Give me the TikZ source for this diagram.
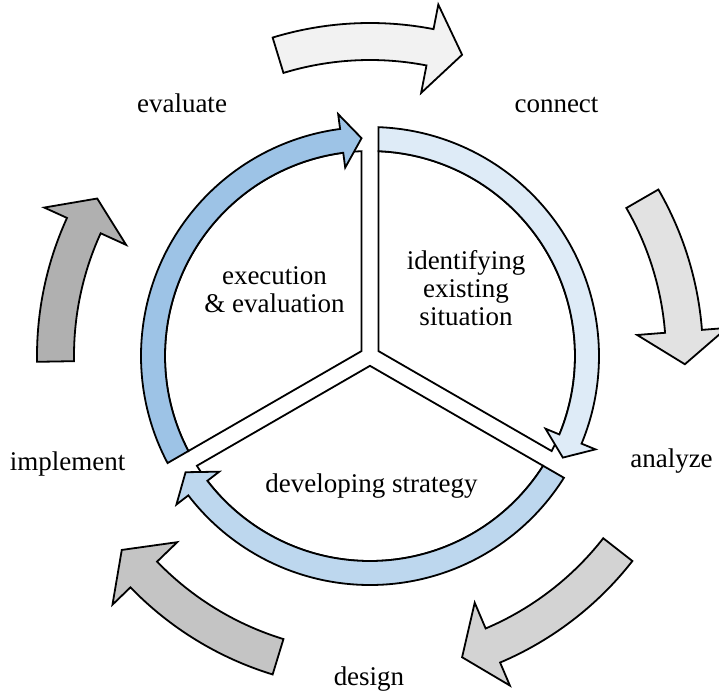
\documentclass[tikz,border=0pt]{standalone}
\usepackage{fontspec}
\setmainfont{Liberation Serif}

\definecolor{bandlight}{HTML}{DEEBF7}
\definecolor{bandmid}{HTML}{BDD7EE}
\definecolor{banddark}{HTML}{9DC3E6}
\definecolor{greyA}{HTML}{F2F2F2}
\definecolor{greyB}{HTML}{E2E2E2}
\definecolor{greyC}{HTML}{D3D3D3}
\definecolor{greyD}{HTML}{C4C4C4}
\definecolor{greyE}{HTML}{B0B0B0}

\begin{document}
\begin{tikzpicture}[x=0.5pt,y=0.5pt,
    every node/.style={font=\fontsize{13.5}{14}\selectfont, inner sep=0pt},
    outline/.style={draw=black, line width=0.9pt, line join=miter},
    steplabel/.style={anchor=base},
    phasetext/.style={anchor=base, align=center}]
            \useasboundingbox (-370,-337) rectangle (349,356);

            % outer cycle of grey arrows: tail angle / head base / tip
            \foreach \a/\b/\t/\col in {107/79/73/greyA, 30/4.5/-1.5/greyB, -38/-67/-73/greyC, -107/-136/-142/greyD, 181/155.5/150/greyE}
                \draw[outline, fill=\col] (\a:333) arc[start angle=\a, end angle=\b, radius=333] -- (\b:358) -- (\t:315) -- (\b:268) -- (\b:296) arc[start angle=\b, end angle=\a, radius=296] -- cycle;

            % three sectors, each with its band arrow
            \foreach \rot/\col in {0/bandlight, 120/banddark, 240/bandmid} {
                \begin{scope}[rotate=\rot]
                    \draw[outline, fill=white] (8.5,4.9) -- (87.62:205) arc[start angle=87.62, end angle=-27.62, radius=205] -- cycle;
                    \draw[outline, fill=\col] (87.87:229) arc[start angle=87.87, end angle=-22.5, radius=229] -- (-22.5:244) -- (-27.78:218) -- (-22.5:190) -- (-22.5:205) arc[start angle=-22.5, end angle=87.62, radius=205] -- cycle;
                \end{scope}
            }

            % base of a multi-line node is its last line
            \node[phasetext] at (96,31) (identifying) {identifying\\existing\\situation};
            \node[phasetext] at (-95.5,44) (execution) {execution\\\& evaluation};
            \node[steplabel] at (1.5,-136) (strategy) {developing strategy};

            \node[steplabel] at (-188,244) (evaluate) {evaluate};
            \node[steplabel] at (186.5,244) (connect) {connect};
            \node[steplabel] at (301.5,-111) (analyze) {analyze};
            \node[steplabel] at (-1,-329) (design) {design};
            \node[steplabel] at (-302.5,-114) (implement) {implement};
\end{tikzpicture}
\end{document}
